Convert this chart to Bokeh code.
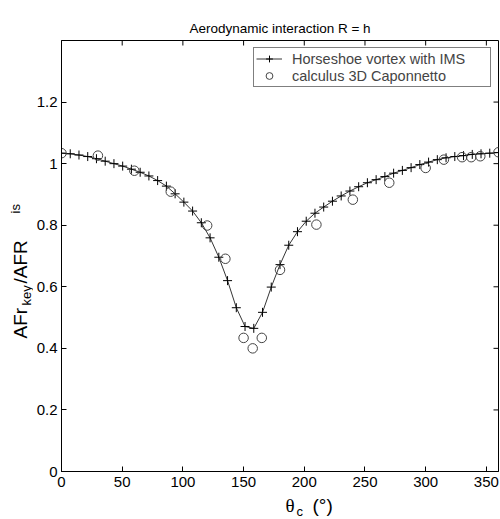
import math
from bokeh.plotting import figure
from bokeh.layouts import row, column
from bokeh.models import Range1d, FixedTicker, Label, Legend, LegendItem
from bokeh.embed import file_html
from bokeh.resources import INLINE

# ---- data ----
theta_ims = [0, 7.2, 14.4, 21.6, 28.8, 36, 43.2, 50.4, 57.6, 64.8, 72, 79.2, 86.4, 93.6,
             100.8, 108, 115.2, 122.4, 129.6, 136.8, 144, 151.2, 158.4, 165.6, 172.8, 180,
             187.2, 194.4, 201.6, 208.8, 216, 223.2, 230.4, 237.6, 244.8, 252, 259.2, 266.4,
             273.6, 280.8, 288, 295.2, 302.4, 309.6, 316.8, 324, 331.2, 338.4, 345.6, 352.8, 360]
afr_ims = [1.034, 1.032, 1.028, 1.023, 1.016, 1.008, 1.000, 0.992, 0.982, 0.972, 0.960, 0.945,
           0.927, 0.902, 0.875, 0.846, 0.808, 0.759, 0.696, 0.620, 0.532, 0.471, 0.465, 0.517,
           0.599, 0.672, 0.735, 0.779, 0.813, 0.839, 0.859, 0.878, 0.895, 0.911, 0.925, 0.938,
           0.948, 0.958, 0.969, 0.978, 0.987, 0.997, 1.005, 1.013, 1.019, 1.023, 1.026, 1.030,
           1.032, 1.034, 1.036]
theta_3d = [0, 30, 60, 90, 120, 135, 150, 157.5, 165, 180, 210, 240, 270, 300, 315, 330,
            337.5, 345, 360]
afr_3d = [1.034, 1.026, 0.977, 0.909, 0.799, 0.691, 0.434, 0.400, 0.434, 0.655, 0.802, 0.883,
          0.938, 0.986, 1.013, 1.021, 1.021, 1.024, 1.037]

x_ticks = [0, 50, 100, 150, 200, 250, 300, 350]
x_tick_labels = ["0", "50", "100", "150", "200", "250", "300", "350"]
y_ticks = [0, 0.2, 0.4, 0.6, 0.8, 1, 1.2]
y_tick_labels = ["0", "0.2", "0.4", "0.6", "0.8", "1", "1.2"]

series_names = ["Horseshoe vortex with IMS", "calculus 3D Caponnetto"]
title_text = "Aerodynamic interaction R = h"

FONT = "Liberation Sans"
X0, X1, Y0, Y1 = 0, 360, 0, 1.4

YLAB_W = 33
MAIN_W = 467
MAIN_H = 494
XLAB_H = 24

p = figure(width=MAIN_W, height=MAIN_H, x_range=Range1d(X0, X1), y_range=Range1d(Y0, Y1),
           output_backend="svg", toolbar_location=None, title=title_text,
           min_border_left=28, min_border_right=2, min_border_top=40, min_border_bottom=23)

p.title.align = "center"
p.title.text_font = FONT
p.title.text_font_size = "13.5px"
p.title.text_font_style = "normal"
p.title.text_color = "black"

p.grid.visible = False
p.outline_line_color = "black"
p.outline_line_width = 1
p.background_fill_color = "white"
p.border_fill_color = "white"

for ax, ticks, labels in ((p.xaxis[0], x_ticks, x_tick_labels), (p.yaxis[0], y_ticks, y_tick_labels)):
    ax.ticker = FixedTicker(ticks=ticks)
    ax.major_label_overrides = {t: l for t, l in zip(ticks, labels)}
    ax.major_tick_in = 5
    ax.major_tick_out = 0
    ax.minor_tick_in = 0
    ax.minor_tick_out = 0
    ax.axis_line_color = "black"
    ax.major_tick_line_color = "black"
    ax.major_label_text_font = FONT
    ax.major_label_text_font_size = "15px"
    ax.major_label_text_color = "black"
p.xaxis.major_label_standoff = 5
p.yaxis.major_label_standoff = 4

# ticks on top / right border (box on)
p.scatter(x_ticks, [Y1] * len(x_ticks), marker="dash", angle=math.pi / 2, size=10,
          line_color="black", line_width=1)
p.scatter([X1] * len(y_ticks), y_ticks, marker="dash", size=10, line_color="black", line_width=1)

r_line = p.line(theta_ims, afr_ims, line_color="black", line_width=0.8)
r_cross = p.scatter(theta_ims, afr_ims, marker="cross", size=9, line_color="black", line_width=1)
r_circ = p.scatter(theta_3d, afr_3d, marker="circle", size=9.5, fill_color=None,
                   line_color="#444444", line_width=1)

legend = Legend(items=[LegendItem(label=series_names[0], renderers=[r_line, r_cross]),
                       LegendItem(label=series_names[1], renderers=[r_circ])],
                location="top_right", margin=7, padding=2, spacing=0,
                glyph_width=26, glyph_height=17, label_height=17, label_width=196,
                label_standoff=10, label_text_font=FONT, label_text_font_size="14.5px",
                border_line_color="black", border_line_width=1,
                background_fill_color="white", background_fill_alpha=1)
p.add_layout(legend)


def text_panel(w, h):
    f = figure(width=w, height=h, x_range=Range1d(0, 1), y_range=Range1d(0, 1),
               output_backend="svg", toolbar_location=None,
               x_axis_location=None, y_axis_location=None,
               min_border=0, outline_line_color=None)
    f.xgrid.visible = False
    f.ygrid.visible = False
    return f


def add_label(fig, text, x, y, size, angle=0.0, font=FONT):
    fig.add_layout(Label(x=x, y=y, x_units="screen", y_units="screen", text=text,
                         text_font=font, text_font_size=size, text_color="black",
                         angle=angle, text_align="left", text_baseline="alphabetic"))


# y-axis label with subscripts (rotated); its frame is aligned with the main frame
yl = text_panel(YLAB_W, MAIN_H)
add_label(yl, "AFr", 20, 133, "19px", math.pi / 2)
add_label(yl, "key", 26, 166, "13px", math.pi / 2)
add_label(yl, "/AFR", 20, 188, "19px", math.pi / 2)
add_label(yl, "is", 15, 258, "13px", math.pi / 2)

# x-axis label with subscript
xl = text_panel(YLAB_W + MAIN_W, XLAB_H)
add_label(xl, "θ", 285, 13, "19px", 0.0, "Liberation Serif")
add_label(xl, "c", 296, 7, "13px")
add_label(xl, "(°)", 312, 13, "19px")

layout = column(row(yl, p, spacing=0), xl, spacing=0)

open("out.html", "w").write(file_html(layout, INLINE))
